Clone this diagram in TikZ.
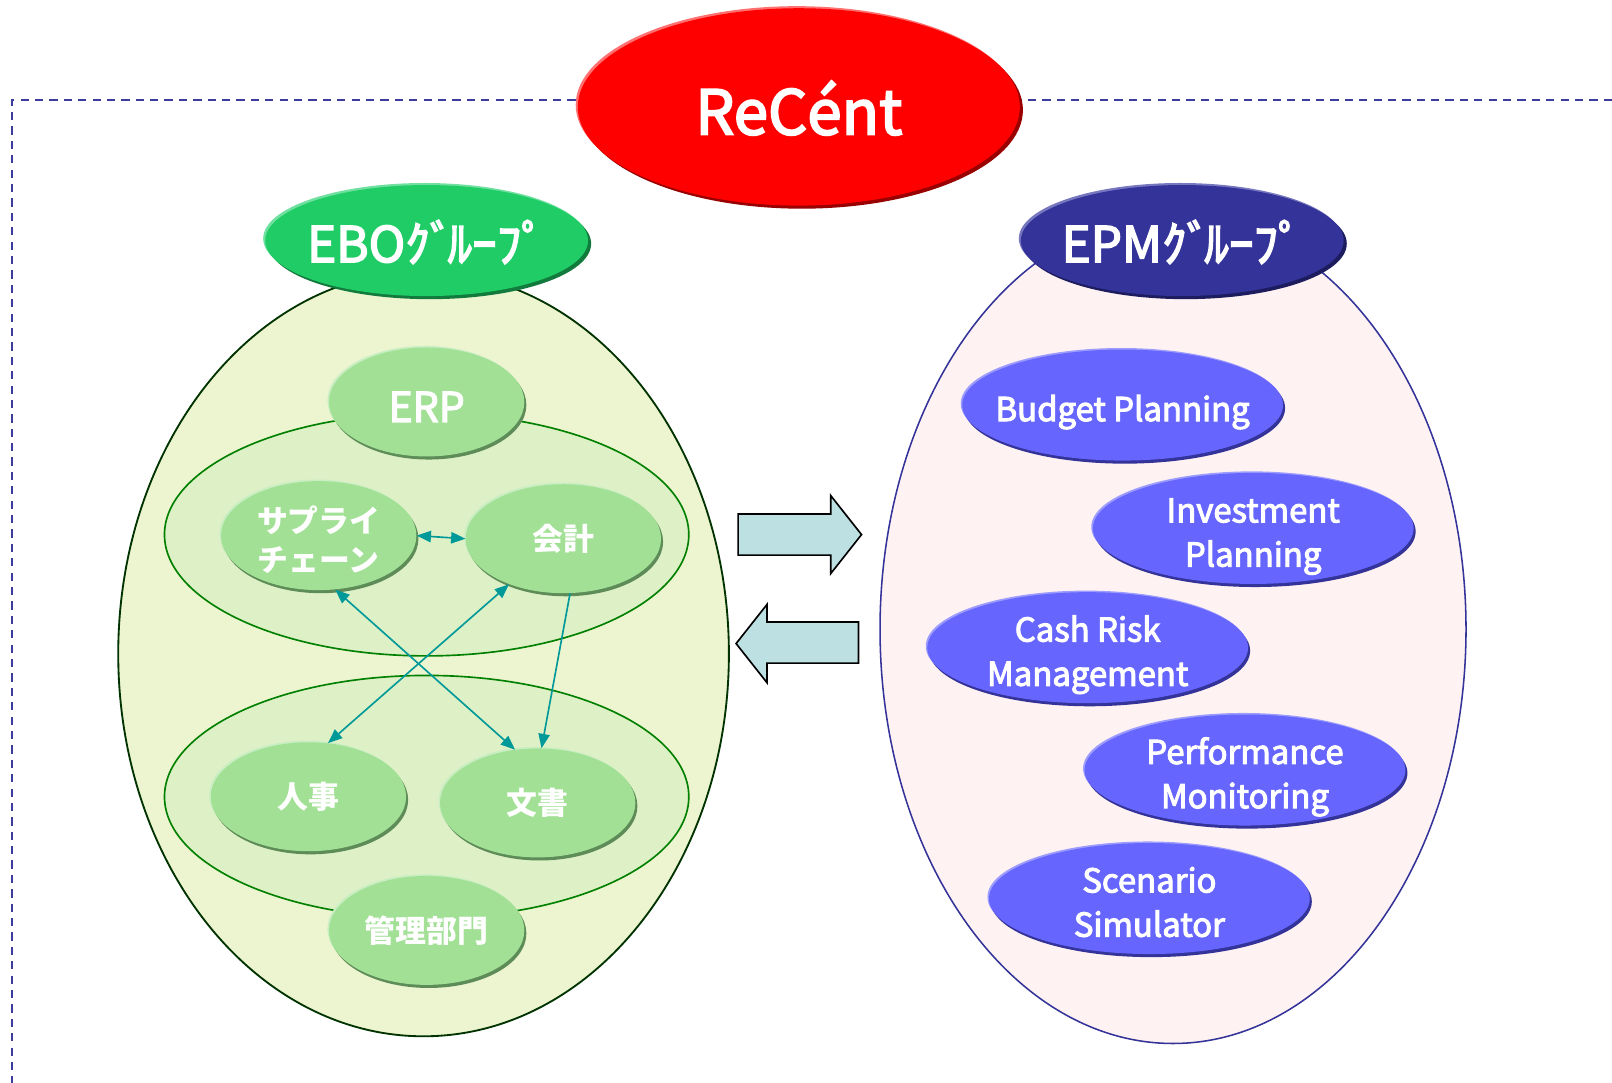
\documentclass[tikz,border=0pt]{standalone}
\usepackage{fontspec}
\setmainfont{Noto Sans CJK JP}[FakeBold=3]
\newfontfamily\jpfont{Noto Sans CJK JP}
\usetikzlibrary{shapes.geometric,shadows,arrows.meta}
\definecolor{bordc}{HTML}{3C3C9E}
\definecolor{redc}{HTML}{FF0000}
\definecolor{redD}{HTML}{990000}
\definecolor{redL}{HTML}{FF7070}
\definecolor{eboc}{HTML}{1FCC66}
\definecolor{eboD}{HTML}{117A3C}
\definecolor{eboL}{HTML}{70E0A0}
\definecolor{epmc}{HTML}{333399}
\definecolor{epmD}{HTML}{1C1C5E}
\definecolor{epmL}{HTML}{7777C0}
\definecolor{gnode}{HTML}{A2E096}
\definecolor{gnodeD}{HTML}{5E8C58}
\definecolor{gnodeL}{HTML}{C8EEC2}
\definecolor{bnode}{HTML}{6666FF}
\definecolor{bnodeD}{HTML}{333399}
\definecolor{bnodeL}{HTML}{9C9CFF}
\definecolor{ebofill}{HTML}{EDF5D0}
\definecolor{ebodraw}{HTML}{003300}
\definecolor{epmfill}{HTML}{FFF2F2}
\definecolor{innerfill}{HTML}{DEF0C6}
\definecolor{innerdraw}{HTML}{008000}
\definecolor{tealc}{HTML}{009999}
\definecolor{blockc}{HTML}{BDE0E3}
\newcommand{\lowtxt}[2]{\raisebox{#1}[\height][\depth]{\begin{tabular}{@{}c@{}}#2\end{tabular}}}
\begin{document}
\begin{tikzpicture}[x=1pt,y=-1pt,
  bub/.style={ellipse, inner sep=-80pt, text=white, align=center},
  grn/.style={bub, fill=gnode, minimum width=190pt, minimum height=106pt,
    general shadow={shadow xshift=-1.5pt, shadow yshift=1.5pt, fill=gnodeL},
    general shadow={shadow xshift=2pt, shadow yshift=-3pt, fill=gnodeD},
    font=\fontsize{30}{38}\selectfont\jpfont\bfseries},
  blu/.style={bub, fill=bnode, minimum width=312pt, minimum height=108pt,
    general shadow={shadow xshift=-1.5pt, shadow yshift=1.5pt, fill=bnodeL},
    general shadow={shadow xshift=2pt, shadow yshift=-3pt, fill=bnodeD},
    font=\fontsize{32}{43}\selectfont},
  grouplabel/.style={bub, minimum width=314pt, minimum height=108pt,
    font=\fontsize{48}{50}\selectfont},
  conn/.style={draw=tealc, line width=1.6pt},
  blockarrow/.style={draw=black, fill=blockc, line width=1.6pt, line join=miter}
]
\useasboundingbox (0,0) rectangle (1568,1053.4);
% dashed frame
\draw[bordc, line width=1.8pt, dash pattern=on 8pt off 6pt] (1568,97) -- (12,97) -- (12,1053.4);

% big group ellipses
\node[ellipse, draw=ebodraw, fill=ebofill, line width=1.8pt, minimum width=594pt, minimum height=744pt, inner sep=0pt] (ebo) at (412,636) {};
\node[ellipse, draw=epmc, fill=epmfill, line width=1.5pt, minimum width=570pt, minimum height=806pt, inner sep=0pt] (epm) at (1141,612) {};

% inner ellipses
\node[ellipse, draw=innerdraw, fill=innerfill, line width=1.6pt, minimum width=510pt, minimum height=236pt, inner sep=0pt] (upper) at (415,520) {};
\node[ellipse, draw=innerdraw, fill=innerfill, line width=1.6pt, minimum width=510pt, minimum height=236pt, inner sep=0pt] (lower) at (415,775) {};

% title
\node[bub, fill=redc, minimum width=430pt, minimum height=192pt,
  general shadow={shadow xshift=-2pt, shadow yshift=2pt, fill=redL},
  general shadow={shadow xshift=3pt, shadow yshift=-3pt, fill=redD},
  font=\fontsize{60}{62}\selectfont] (title) at (777,104) {\lowtxt{-10pt}{ReCént}};

% group labels
\node[grouplabel, fill=eboc,
  general shadow={shadow xshift=-2pt, shadow yshift=2pt, fill=eboL},
  general shadow={shadow xshift=3pt, shadow yshift=-3pt, fill=eboD}] (ebolabel) at (415,234) {\lowtxt{-8pt}{EBOｸﾞ\kern-7ptﾙｰﾌﾟ}};
\node[grouplabel, fill=epmc,
  general shadow={shadow xshift=-2pt, shadow yshift=2pt, fill=epmL},
  general shadow={shadow xshift=3pt, shadow yshift=-3pt, fill=epmD}] (epmlabel) at (1150,234) {\lowtxt{-8pt}{EPMｸﾞ\kern-7ptﾙｰﾌﾟ}};

% EBO nodes
\node[grn, font=\fontsize{40}{42}\selectfont] (erp) at (415,391) {\lowtxt{-11pt}{ERP}};
\node[grn] (sc) at (310,521) {\lowtxt{-8pt}{サプライ\\チェーン}};
\node[grn] (kk) at (548,524) {会計};
\node[grn] (jj) at (300,775) {人事};
\node[grn] (bs) at (523,781) {文書};
\node[grn] (kr) at (415,905) {管理部門};

% EPM nodes
\node[blu] (bp) at (1092,394) {\lowtxt{-7pt}{Budget Planning}};
\node[blu] (ip) at (1219,514) {\lowtxt{-7pt}{Investment\\Planning}};
\node[blu] (cr) at (1058,630) {\lowtxt{-7pt}{Cash Risk\\Management}};
\node[blu] (pm) at (1211,749) {\lowtxt{-7pt}{Performance\\Monitoring}};
\node[blu] (ss) at (1118,874) {\lowtxt{-7pt}{Scenario\\Simulator}};

% connectors
\draw[conn, {Triangle[length=14pt,width=11pt]}-{Triangle[length=14pt,width=11pt]}] (sc.east) -- (kk.west);
\draw[conn, {Triangle[length=14pt,width=11pt]}-{Triangle[length=14pt,width=11pt]}] (sc.-73) -- (bs.113);
\draw[conn, {Triangle[length=14pt,width=11pt]}-{Triangle[length=14pt,width=11pt]}] (kk.-140) -- (jj.70);
\draw[conn, -{Triangle[length=14pt,width=11pt]}] (kk.-83) -- (bs.86);

% block arrows
\draw[blockarrow] (718,500) -- (808,500) -- (808,482) -- (838,520) -- (808,558) -- (808,540) -- (718,540) -- cycle;
\draw[blockarrow] (835,605) -- (746,605) -- (746,588) -- (716,626) -- (746,664) -- (746,645) -- (835,645) -- cycle;
\end{tikzpicture}
\end{document}
